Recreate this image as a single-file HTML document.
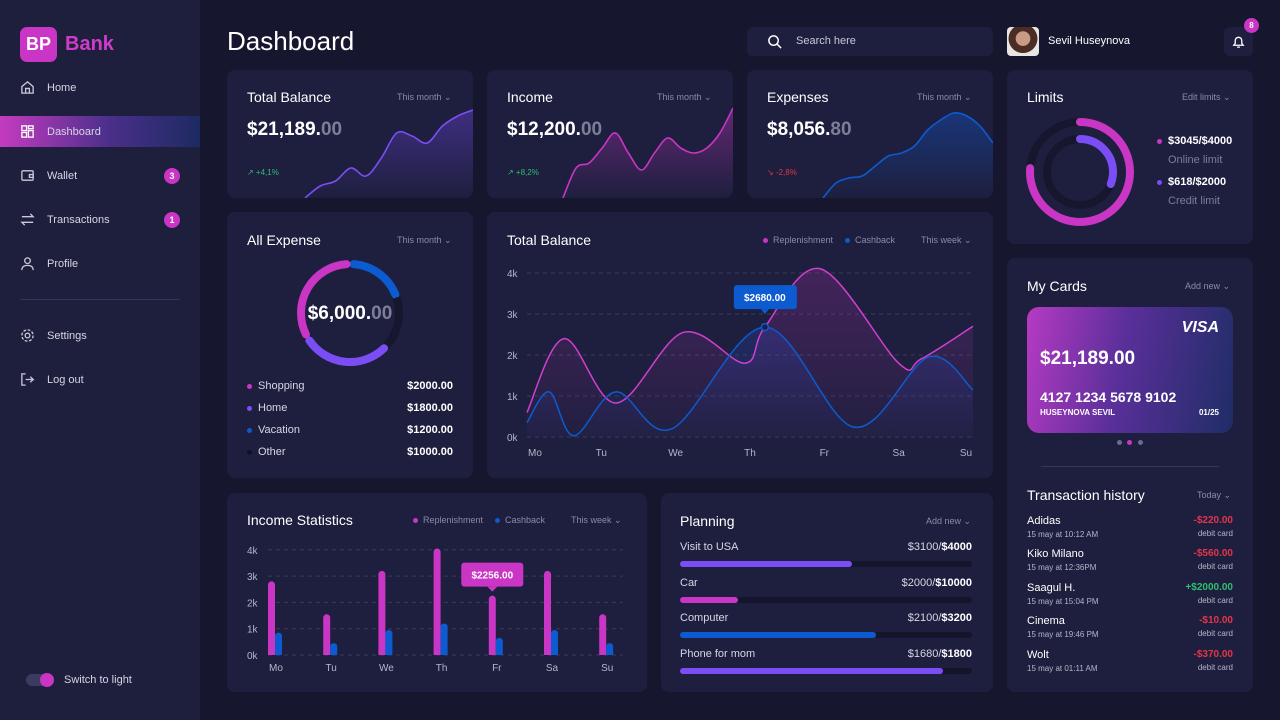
<!DOCTYPE html>
<html><head><meta charset="utf-8">
<style>
*{box-sizing:border-box;margin:0;padding:0}
body{width:1280px;height:720px;background:#16172f;font-family:"Liberation Sans",sans-serif;color:#fff;position:relative;overflow:hidden}
.abs{position:absolute}
.card{position:absolute;background:#1e1f3e;border-radius:8px}
.t{position:absolute;white-space:nowrap}
.ttl{font-size:14px;color:#fff}
.sel{font-size:9px;color:#8a8ba8}
.nav{position:absolute;left:20px;font-size:11px;color:#d6d6e6;display:flex;align-items:center;gap:12px}
.badge{position:absolute;width:16px;height:16px;border-radius:50%;background:#c935c4;font-size:9px;font-weight:bold;text-align:center;line-height:16px}
.dot{display:inline-block;width:5px;height:5px;border-radius:50%;margin-right:6px;vertical-align:middle}
</style></head><body>
<div class="abs" style="left:0;top:0;width:200px;height:720px;background:#1e1e3d"></div>
<div class="abs" style="left:20px;top:27px;width:37px;height:35px;border-radius:7px;background:#c935c4;font-weight:bold;font-size:18px;text-align:center;line-height:35px">BP</div>
<div class="t" style="left:65px;top:33px;font-size:20px;font-weight:bold;color:#cf3cc9">Bank</div>
<div class="abs" style="left:0;top:116px;width:200px;height:31px;background:linear-gradient(90deg,#c43bc0 0%,#4a2f8a 55%,#1d2a62 100%)"></div>
<div class="nav" style="top:80px"><svg width="15" height="15" viewBox="0 0 16 16" fill="none" stroke="#c9c9d9" stroke-width="1.4"><path d="M2 7L8 2l6 5v7H2z M6 14v-5h4v5"/></svg>Home</div>
<div class="nav" style="top:124px"><svg width="15" height="15" viewBox="0 0 16 16" fill="none" stroke="#fff" stroke-width="1.4"><rect x="2" y="2" width="5" height="5"/><rect x="9" y="2" width="5" height="3"/><rect x="2" y="9" width="5" height="5"/><rect x="9" y="7" width="5" height="7"/></svg>Dashboard</div>
<div class="nav" style="top:168px"><svg width="15" height="15" viewBox="0 0 16 16" fill="none" stroke="#c9c9d9" stroke-width="1.4"><rect x="2" y="3" width="12" height="10" rx="1"/><path d="M10 7h4v3h-4z"/></svg>Wallet</div>
<div class="badge" style="left:164px;top:168px">3</div>
<div class="nav" style="top:212px"><svg width="15" height="15" viewBox="0 0 16 16" fill="none" stroke="#c9c9d9" stroke-width="1.4"><path d="M2 5h12l-3-3M14 11H2l3 3"/></svg>Transactions</div>
<div class="badge" style="left:164px;top:212px">1</div>
<div class="nav" style="top:256px"><svg width="15" height="15" viewBox="0 0 16 16" fill="none" stroke="#c9c9d9" stroke-width="1.4"><circle cx="8" cy="5" r="3"/><path d="M2 15c0-4 3-5 6-5s6 1 6 5"/></svg>Profile</div>
<div class="abs" style="left:20px;top:299px;width:160px;height:1px;background:#35365a"></div>
<div class="nav" style="top:328px"><svg width="15" height="15" viewBox="0 0 16 16" fill="none" stroke="#c9c9d9" stroke-width="1.4"><circle cx="8" cy="8" r="2.5"/><circle cx="8" cy="8" r="6" stroke-dasharray="3 1.7"/></svg>Settings</div>
<div class="nav" style="top:372px"><svg width="15" height="15" viewBox="0 0 16 16" fill="none" stroke="#c9c9d9" stroke-width="1.4"><path d="M6 2H2v12h4M6 8h8l-3-3M14 8l-3 3"/></svg>Log out</div>
<div class="abs" style="left:26px;top:674px;width:28px;height:12px;border-radius:6px;background:#3a3b5e"><div style="position:absolute;right:0;top:-1px;width:14px;height:14px;border-radius:50%;background:#c935c4"></div></div>
<div class="t" style="left:64px;top:674px;font-size:11px;color:#d6d6e6">Switch to light</div>

<div class="t" style="left:227px;top:26px;font-size:26px">Dashboard</div>
<div class="card" style="left:747px;top:27px;width:246px;height:29px;border-radius:6px"><svg class="abs" style="left:20px;top:7px" width="15" height="15" viewBox="0 0 16 16" fill="none" stroke="#fff" stroke-width="1.6"><circle cx="7" cy="7" r="5"/><path d="M11 11l4 4"/></svg><span class="t" style="left:49px;top:8px;font-size:11px;color:#c9c9d9">Search here</span></div>
<div class="abs" style="left:1007px;top:27px;width:32px;height:29px;border-radius:4px;background:radial-gradient(circle at 50% 40%,#c99a84 0 30%,#4a2e25 32% 60%,#e9e5e2 62%)"></div>
<div class="t" style="left:1048px;top:35px;font-size:11px">Sevil Huseynova</div>
<div class="card" style="left:1224px;top:27px;width:29px;height:29px;border-radius:6px"><svg class="abs" style="left:7px;top:7px" width="15" height="15" viewBox="0 0 16 16" fill="none" stroke="#fff" stroke-width="1.4"><path d="M3 12h10l-1.5-2V7a3.5 3.5 0 0 0-7 0v3zM6.5 14h3"/></svg></div>
<div class="badge" style="left:1244px;top:18px;width:15px;height:15px;line-height:15px;font-size:8px">8</div>

<!-- Top stat cards -->
<div class="card" style="left:227px;top:70px;width:246px;height:128px;overflow:hidden">
 <div class="t ttl" style="left:20px;top:19px">Total Balance</div>
 <div class="t sel" style="left:170px;top:22px">This month ⌄</div>
 <div class="t" style="left:20px;top:49px;font-size:19px;font-weight:bold">$21,189.<span style="color:#7d7e98">00</span></div>
 <div class="t" style="left:20px;top:98px;font-size:8px;color:#2fbf71">↗ +4,1%</div>
 <svg class="abs" id="spark1" style="left:0;top:0" width="246" height="128"></svg>
</div>
<div class="card" style="left:487px;top:70px;width:246px;height:128px;overflow:hidden">
 <div class="t ttl" style="left:20px;top:19px">Income</div>
 <div class="t sel" style="left:170px;top:22px">This month ⌄</div>
 <div class="t" style="left:20px;top:49px;font-size:19px;font-weight:bold">$12,200.<span style="color:#7d7e98">00</span></div>
 <div class="t" style="left:20px;top:98px;font-size:8px;color:#2fbf71">↗ +8,2%</div>
 <svg class="abs" id="spark2" style="left:0;top:0" width="246" height="128"></svg>
</div>
<div class="card" style="left:747px;top:70px;width:246px;height:128px;overflow:hidden">
 <div class="t ttl" style="left:20px;top:19px">Expenses</div>
 <div class="t sel" style="left:170px;top:22px">This month ⌄</div>
 <div class="t" style="left:20px;top:49px;font-size:19px;font-weight:bold">$8,056.<span style="color:#7d7e98">80</span></div>
 <div class="t" style="left:20px;top:98px;font-size:8px;color:#e2364a">↘ -2,8%</div>
 <svg class="abs" id="spark3" style="left:0;top:0" width="246" height="128"></svg>
</div>

<!-- Limits -->
<div class="card" style="left:1007px;top:70px;width:246px;height:174px">
 <div class="t ttl" style="left:20px;top:19px">Limits</div>
 <div class="t sel" style="left:175px;top:22px">Edit limits ⌄</div>
 <svg class="abs" id="limits" style="left:0;top:0" width="140" height="174"></svg>
 <div class="t" style="left:150px;top:65px;font-size:11px;font-weight:bold"><span class="dot" style="background:#c935c4"></span>$3045/$4000</div>
 <div class="t" style="left:161px;top:84px;font-size:11px;color:#7d7e98">Online limit</div>
 <div class="t" style="left:150px;top:106px;font-size:11px;font-weight:bold"><span class="dot" style="background:#7b4ef5"></span>$618/$2000</div>
 <div class="t" style="left:161px;top:125px;font-size:11px;color:#7d7e98">Credit limit</div>
</div>

<!-- All expense -->
<div class="card" style="left:227px;top:212px;width:246px;height:266px">
 <div class="t ttl" style="left:20px;top:20px">All Expense</div>
 <div class="t sel" style="left:170px;top:23px">This month ⌄</div>
 <svg class="abs" id="donut" style="left:0;top:0" width="246" height="160"></svg>
 <div class="t" style="left:0;width:246px;text-align:center;top:91px;font-size:19px;font-weight:bold">$6,000.<span style="color:#7d7e98">00</span></div>
 <div id="exlist"></div>
</div>

<!-- Total balance chart -->
<div class="card" style="left:487px;top:212px;width:506px;height:266px">
 <div class="t ttl" style="left:20px;top:20px">Total Balance</div>
 <div class="t sel" style="left:276px;top:23px"><span class="dot" style="background:#c935c4;margin-right:5px"></span>Replenishment</div>
 <div class="t sel" style="left:358px;top:23px"><span class="dot" style="background:#0d5bd0;margin-right:5px"></span>Cashback</div>
 <div class="t sel" style="left:434px;top:23px">This week ⌄</div>
</div>
<svg class="abs" id="linechart" style="left:0;top:0" width="1280" height="720"></svg>

<!-- My cards -->
<div class="card" style="left:1007px;top:258px;width:246px;height:434px">
 <div class="t ttl" style="left:20px;top:20px">My Cards</div>
 <div class="t sel" style="left:178px;top:23px">Add new ⌄</div>
 <div class="abs" style="left:20px;top:49px;width:206px;height:126px;border-radius:12px;background:linear-gradient(100deg,#b63ac3 0%,#5a2f9a 45%,#1f2d66 100%)">
  <div class="t" style="right:14px;top:12px;font-size:16px;font-weight:bold;font-style:italic">VISA</div>
  <div class="t" style="left:13px;top:41px;font-size:19px;font-weight:bold">$21,189.00</div>
  <div class="t" style="left:13px;top:82px;font-size:14px;font-weight:bold">4127 1234 5678 9102</div>
  <div class="t" style="left:13px;top:101px;font-size:8px;font-weight:bold">HUSEYNOVA SEVIL</div>
  <div class="t" style="right:14px;top:101px;font-size:8px;font-weight:bold">01/25</div>
 </div>
 <div class="abs" style="left:110px;top:182px;width:5px;height:5px;border-radius:50%;background:#6b6c88"></div>
 <div class="abs" style="left:120px;top:182px;width:5px;height:5px;border-radius:50%;background:#c935c4"></div>
 <div class="abs" style="left:131px;top:182px;width:5px;height:5px;border-radius:50%;background:#6b6c88"></div>
 <div class="abs" style="left:34px;top:208px;width:178px;height:1px;background:#35365a"></div>
 <div class="t ttl" style="left:20px;top:229px">Transaction history</div>
 <div class="t sel" style="left:190px;top:232px">Today ⌄</div>
 <div id="txlist"></div>
</div>

<!-- Income statistics -->
<div class="card" style="left:227px;top:493px;width:420px;height:199px">
 <div class="t ttl" style="left:20px;top:19px">Income Statistics</div>
 <div class="t sel" style="left:186px;top:22px"><span class="dot" style="background:#c935c4;margin-right:5px"></span>Replenishment</div>
 <div class="t sel" style="left:268px;top:22px"><span class="dot" style="background:#0d5bd0;margin-right:5px"></span>Cashback</div>
 <div class="t sel" style="left:344px;top:22px">This week ⌄</div>
</div>
<svg class="abs" id="barchart" style="left:0;top:0" width="1280" height="720"></svg>

<!-- Planning -->
<div class="card" style="left:661px;top:493px;width:332px;height:199px">
 <div class="t ttl" style="left:19px;top:20px">Planning</div>
 <div class="t sel" style="left:265px;top:23px">Add new ⌄</div>
 <div id="planlist"></div>
</div>

<script>
const NS='http://www.w3.org/2000/svg';
function mk(parent,tag,attrs){const e=document.createElementNS(NS,tag);for(const k in attrs)e.setAttribute(k,attrs[k]);parent.appendChild(e);return e;}
function smooth(pts){let d='M'+pts[0][0]+','+pts[0][1];for(let i=0;i<pts.length-1;i++){const p0=pts[i-1]||pts[i],p1=pts[i],p2=pts[i+1],p3=pts[i+2]||p2;const c1=[p1[0]+(p2[0]-p0[0])/6,p1[1]+(p2[1]-p0[1])/6],c2=[p2[0]-(p3[0]-p1[0])/6,p2[1]-(p3[1]-p1[1])/6];d+=' C'+c1[0]+','+c1[1]+' '+c2[0]+','+c2[1]+' '+p2[0]+','+p2[1];}return d;}

// ===== Sparkline data (relative values 0..1) =====
const spark1Vals=[0,0.12,0.17,0.3,0.22,0.4,0.65,0.62,0.55,0.72,0.82,0.88];
const spark2Vals=[0,0.3,0.35,0.5,0.65,0.45,0.28,0.45,0.6,0.5,0.45,0.5,0.65,0.9];
const spark3Vals=[0,0.15,0.2,0.22,0.32,0.42,0.45,0.52,0.68,0.78,0.85,0.82,0.72,0.55];
function drawSpark(id,vals,x0,x1,color,fillTop){
 const s=document.getElementById(id);
 const defs=mk(s,'defs',{});const g=mk(defs,'linearGradient',{id:id+'g',x1:0,y1:0,x2:0,y2:1});
 mk(g,'stop',{offset:0,'stop-color':fillTop,'stop-opacity':0.55});mk(g,'stop',{offset:1,'stop-color':fillTop,'stop-opacity':0});
 const xs=v=>x0+(x1-x0)*v, ys=v=>128-v*100;
 const pts=vals.map((v,i)=>[xs(i/(vals.length-1)),ys(v)]);
 const d=smooth(pts);
 const a=mk(s,'path',{d:d+' L'+x1+',128 L'+x0+',128 Z',fill:'url(#'+id+'g)'});
 
 
 const l=mk(s,'path',{d:d,fill:'none',stroke:color,'stroke-width':1.6});
 
 
}
drawSpark('spark1',spark1Vals,78,246,'#7b4ef5','#5a3bb8');
drawSpark('spark2',spark2Vals,76,246,'#c935c4','#9a2fa0');
drawSpark('spark3',spark3Vals,76,246,'#0d5bd0','#1547a8');

// ===== Limits =====
const limitNames=['online','credit'];
const limitUsed=[3045,618];
const limitMax=[4000,2000];
(function(){
 const s=document.getElementById('limits');const cx=73,cy=102;const radii=[50,33],cols=['#c935c4','#7b4ef5'];
 limitUsed.forEach((u,i)=>{
  const r=radii[i],C=2*Math.PI*r;
  mk(s,'circle',{cx,cy,r,fill:'none',stroke:'#16172f','stroke-width':8});
  const c=mk(s,'circle',{cx,cy,r,fill:'none',stroke:cols[i],'stroke-width':8,'stroke-linecap':'round','stroke-dasharray':(C*u/limitMax[i])+' '+C,transform:'rotate(-90 '+cx+' '+cy+')'});
  
  
 });
})();

// ===== Expense donut =====
const expCats=['Shopping','Home','Vacation','Other'];
const expVals=[2000,1800,1200,1000];
const expCols=['#c935c4','#7b4ef5','#0d5bd0','#16172f'];
(function(){
 const s=document.getElementById('donut');const cx=123,cy=101,r=49;const tot=expVals.reduce((a,b)=>a+b,0);
 mk(s,'circle',{cx,cy,r,fill:'none',stroke:'#16172f','stroke-width':8});
 const order=[2,3,1,0];let ang=-90;
 order.forEach(i=>{
  const sweep=360*expVals[i]/tot; const a0=(ang+4)*Math.PI/180,a1=(ang+sweep-4)*Math.PI/180;
  const p=mk(s,'path',{d:'M'+(cx+r*Math.cos(a0))+','+(cy+r*Math.sin(a0))+' A'+r+','+r+' 0 '+(sweep-8>180?1:0)+' 1 '+(cx+r*Math.cos(a1))+','+(cy+r*Math.sin(a1)),fill:'none',stroke:expCols[i],'stroke-width':8,'stroke-linecap':'round'});
  
  
  ang+=sweep;
 });
 const L=document.getElementById('exlist');
 expCats.forEach((c,i)=>{
  const row=document.createElement('div');row.className='t';row.style.cssText='left:20px;top:'+(168+i*22)+'px;width:206px;font-size:11px;color:#d6d6e6';
  row.innerHTML='<span class="dot" style="background:'+(i==3?'#0f1026':expCols[i])+'"></span>'+c+'<span style="position:absolute;right:0;color:#fff;font-weight:bold">$'+expVals[i]+'.00</span>';
  
  
  L.appendChild(row);
 });
})();

// ===== Total balance line chart =====
const days=['Mo','Tu','We','Th','Fr','Sa','Su'];
const yTicks=[0,1,2,3,4];
const replX=[0,0.5,1.2,2.1,2.93,3.2,3.95,5.0,5.3,6];
const replVals=[0.6,2.4,0.83,2.55,1.8,2.68,4.1,1.8,1.9,2.7];
const cashX=[0,0.3,0.63,1.2,1.95,3.2,4.4,5.4,6];
const cashVals=[0.35,1.1,0.03,1.1,0.2,2.68,0.24,1.95,1.15];
(function(){
 const s=document.getElementById('linechart');
 const xL=v=>527+v*74.33, yL=v=>437-v*41;
 yTicks.forEach(t=>{
  mk(s,'line',{x1:527,x2:973,y1:yL(t),y2:yL(t),stroke:'#3b3b55','stroke-dasharray':'4 4'});
  const tx=mk(s,'text',{x:507,y:yL(t)+4,fill:'#b4b5c8','font-size':10});tx.textContent=t+'k';
 });
 days.forEach((d,i)=>{const tx=mk(s,'text',{x:xL(i)+(i==0?8:i==6?-7:0),y:456,fill:'#b4b5c8','font-size':10,'text-anchor':'middle'});tx.textContent=d;});
 const defs=mk(s,'defs',{});
 const g1=mk(defs,'linearGradient',{id:'rg',x1:0,y1:0,x2:0,y2:1});mk(g1,'stop',{offset:0,'stop-color':'#c935c4','stop-opacity':0.22});mk(g1,'stop',{offset:1,'stop-color':'#c935c4','stop-opacity':0.02});
 const g2=mk(defs,'linearGradient',{id:'cg',x1:0,y1:0,x2:0,y2:1});mk(g2,'stop',{offset:0,'stop-color':'#2a4fd0','stop-opacity':0.25});mk(g2,'stop',{offset:1,'stop-color':'#2a4fd0','stop-opacity':0.02});
 const rp=replX.map((x,i)=>[xL(x),yL(replVals[i])]), cp=cashX.map((x,i)=>[xL(x),yL(cashVals[i])]);
 const rd=smooth(rp),cd=smooth(cp);
 mk(s,'path',{d:rd+' L973,437 L527,437 Z',fill:'url(#rg)'});
 mk(s,'path',{d:cd+' L973,437 L527,437 Z',fill:'url(#cg)'});
 const l1=mk(s,'path',{d:rd,fill:'none',stroke:'#d13fcf','stroke-width':1.5});
 
 
 const l2=mk(s,'path',{d:cd,fill:'none',stroke:'#0d5bd0','stroke-width':1.5});
 
 
 const px=xL(cashX[5]),py=yL(cashVals[5]);
 const pt=mk(s,'circle',{cx:px,cy:py,r:3.5,fill:'#1e1f3e',stroke:'#0d5bd0','stroke-width':1.5});
 
 
 mk(s,'rect',{x:px-31,y:py-42,width:63,height:24,rx:3,fill:'#0d5bd0'});
 mk(s,'path',{d:'M'+(px-4)+','+(py-18)+' L'+px+','+(py-13)+' L'+(px+4)+','+(py-18)+'Z',fill:'#0d5bd0'});
 const tt=mk(s,'text',{x:px,y:py-26,fill:'#fff','font-size':10,'font-weight':'bold','text-anchor':'middle'});tt.textContent='$'+(cashVals[5]*1000).toFixed(2);
})();

// ===== Income bar chart =====
const barDays=['Mo','Tu','We','Th','Fr','Sa','Su'];
const barTicks=[0,1,2,3,4];
const replBars=[2.8,1.55,3.2,4.05,2.256,3.2,1.55];
const cashBars=[0.85,0.45,0.95,1.2,0.65,0.95,0.45];
(function(){
 const s=document.getElementById('barchart');
 const xB=i=>276+i*55.2, yB=v=>655-v*26.3;
 barTicks.forEach(t=>{
  mk(s,'line',{x1:268,x2:623,y1:yB(t),y2:yB(t),stroke:'#3b3b55','stroke-dasharray':'4 4'});
  const tx=mk(s,'text',{x:247,y:yB(t)+4,fill:'#b4b5c8','font-size':10});tx.textContent=t+'k';
 });
 barDays.forEach((d,i)=>{
  const tx=mk(s,'text',{x:xB(i),y:671,fill:'#b4b5c8','font-size':10,'text-anchor':'middle'});tx.textContent=d;
  const h1=replBars[i]*26.3,h2=cashBars[i]*26.3;
  const b1=mk(s,'path',{d:'M'+(xB(i)-8)+','+yB(0)+' V'+(yB(replBars[i])+3.5)+' a3.5,3.5 0 0 1 7,0 V'+yB(0)+'Z',fill:'#c935c4'});
  
  
  const b2=mk(s,'path',{d:'M'+(xB(i)-1)+','+yB(0)+' V'+(yB(cashBars[i])+3)+' a3.5,3 0 0 1 7,0 V'+yB(0)+'Z',fill:'#0d5bd0'});
  
  
 });
 const px=xB(4)-4.5,py=yB(replBars[4]);
 mk(s,'rect',{x:px-31,y:py-33,width:62,height:24,rx:3,fill:'#c935c4'});
 mk(s,'path',{d:'M'+(px-5)+','+(py-9)+' L'+px+','+(py-4)+' L'+(px+5)+','+(py-9)+'Z',fill:'#c935c4'});
 const tt=mk(s,'text',{x:px,y:py-17,fill:'#fff','font-size':10,'font-weight':'bold','text-anchor':'middle'});tt.textContent='$'+(replBars[4]*1000).toFixed(2);
})();

// ===== Planning =====
const planNames=['Visit to USA','Car','Computer','Phone for mom'];
const planSaved=[3100,2000,2100,1680];
const planGoal=[4000,10000,3200,1800];
const planFill=[0.59,0.2,0.67,0.9];
const planCols=['#7b4ef5','#c935c4','#0d5bd0','#7b4ef5'];
(function(){
 const L=document.getElementById('planlist');
 planNames.forEach((n,i)=>{
  const y=48+i*35.5;
  const r=document.createElement('div');r.className='t';r.style.cssText='left:19px;top:'+y+'px;width:292px;font-size:11px;color:#d6d6e6';
  r.innerHTML=n+'<span style="position:absolute;right:0">$'+planSaved[i]+'/<b style="color:#fff">$'+planGoal[i]+'</b></span>';
  
  
  L.appendChild(r);
  const tr=document.createElement('div');tr.className='abs';tr.style.cssText='left:19px;top:'+(y+20)+'px;width:292px;height:6px;border-radius:3px;background:#14152b';
  tr.innerHTML='<div style="width:'+(planFill[i]*100)+'%;height:100%;border-radius:3px;background:'+planCols[i]+'"></div>';
  
  
  L.appendChild(tr);
 });
})();

// ===== Transactions =====
const txNames=['Adidas','Kiko Milano','Saagul H.','Cinema','Wolt'];
const txTimes=['15 may at 10:12 AM','15 may at 12:36PM','15 may at 15:04 PM','15 may at 19:46 PM','15 may at 01:11 AM'];
const txAmts=['-$220.00','-$560.00','+$2000.00','-$10.00','-$370.00'];
(function(){
 const L=document.getElementById('txlist');
 txNames.forEach((n,i)=>{
  const y=257+i*33.4;
  const r=document.createElement('div');r.className='t';r.style.cssText='left:20px;top:'+y+'px;width:206px;font-size:11px;color:#fff';
  const pos=txAmts[i][0]=='+';
  r.innerHTML=n+'<div style="font-size:8px;color:#b4b5c8;margin-top:3px">'+txTimes[i]+'</div><span style="position:absolute;right:0;top:0;font-weight:bold;font-size:10px;color:'+(pos?'#2fbf71':'#e2364a')+'">'+txAmts[i]+'</span><span style="position:absolute;right:0;top:14px;font-size:8px;color:#b4b5c8">debit card</span>';
  
  
  L.appendChild(r);
 });
})();
</script>
</body></html>
